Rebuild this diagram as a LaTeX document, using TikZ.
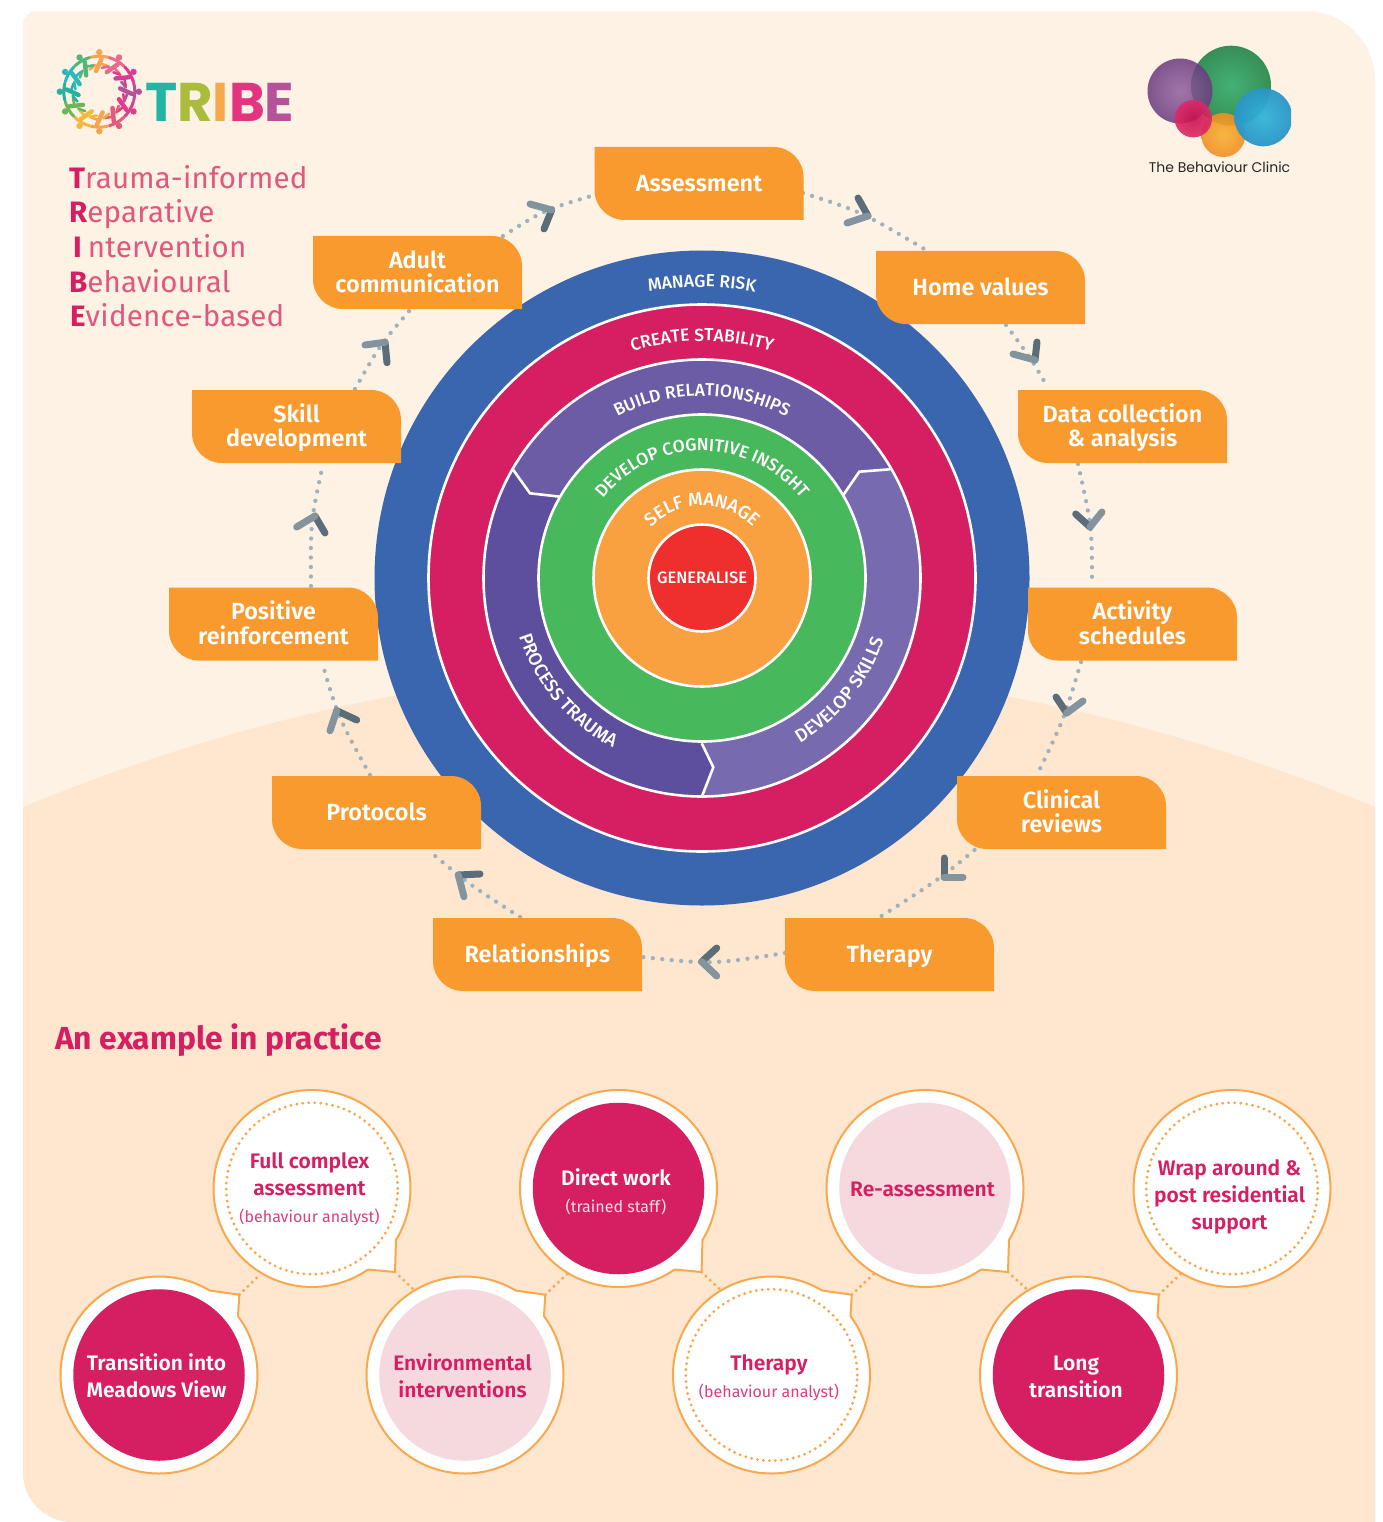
\documentclass[tikz,border=0pt]{standalone}
\usepackage{fontspec}
\setmainfont{Fira Sans}
\newfontfamily\medfont{Fira Sans Medium}
\newfontfamily\semifont{Fira Sans SemiBold}
\newfontfamily\tribefont{Poppins}
\newfontfamily\clinicfont{Poppins}
\usetikzlibrary{decorations.text,calc}
\pgfdeclarelayer{bg}\pgfdeclarelayer{conn}
\pgfsetlayers{bg,conn,main}
\definecolor{topbg}{HTML}{FEF2E4}
\definecolor{lowbg}{HTML}{FEE6CF}
\definecolor{ringblue}{HTML}{3A65AF}
\definecolor{crim}{HTML}{D61F63}
\definecolor{purtop}{HTML}{6C5BA5}
\definecolor{purleft}{HTML}{5D4E9E}
\definecolor{purright}{HTML}{786AAE}
\definecolor{ringgreen}{HTML}{47B85C}
\definecolor{ringorange}{HTML}{F9A041}
\definecolor{ringred}{HTML}{EE2F2E}
\definecolor{tabor}{HTML}{F99A2E}
\definecolor{dotgrey}{HTML}{A0B2BE}
\definecolor{chevdark}{HTML}{5B6D78}
\definecolor{chevlight}{HTML}{84949F}
\definecolor{bubline}{HTML}{F8A84D}
\definecolor{pinkdisc}{HTML}{F5D9DF}
\definecolor{subpink}{HTML}{DB3F80}
\definecolor{softcrim}{HTML}{E0577F}
\definecolor{lgA}{HTML}{3AAE70}\definecolor{lgB}{HTML}{2C8A4E}
\definecolor{lpA}{HTML}{90609F}\definecolor{lpB}{HTML}{6A3A80}
\definecolor{loA}{HTML}{F7B12E}\definecolor{loB}{HTML}{F08E25}
\definecolor{lbA}{HTML}{33B5D8}\definecolor{lbB}{HTML}{2A95C8}
\definecolor{lrA}{HTML}{C8104F}\definecolor{lrB}{HTML}{DC2A66}
\tikzset{
  ringfill/.style={draw=white,line width=2.6pt},
  tabtext/.style={text=white,font=\semifont\fontsize{23.4}{24.5}\selectfont,align=center,minimum width=209pt,minimum height=73pt,inner sep=0pt},
  dotline/.style={dotgrey,line width=4.3pt,line cap=round,dash pattern=on 0pt off 9.5pt},
  chevd/.style={chevdark,line width=7pt,line cap=round},
  chevl/.style={chevlight,line width=7pt,line cap=round},
  olink/.style={bubline,line width=3.4pt,line cap=round,dash pattern=on 0pt off 6pt},
  bubouter/.style={circle,draw=bubline,line width=2pt,fill=white,minimum size=197pt,inner sep=0pt},
  bubinner/.style={circle,minimum size=171.5pt,inner sep=0pt},
  dottedring/.style={draw=bubline,line width=3.2pt,line cap=round,dash pattern=on 0pt off 6pt},
  bubtext/.style={align=center,font=\semifont\fontsize{21}{27}\selectfont,inner sep=0pt},
  tribeline/.style={anchor=base west,inner sep=0pt,font=\fontsize{29.5}{31}\selectfont\addfontfeature{LetterSpace=0.8},text=softcrim}
}
\newcommand{\ringfont}{\medfont\fontsize{17.5}{17.5}\selectfont\color{white}}
\newcommand{\ringfontb}{\medfont\fontsize{18.5}{18.5}\selectfont\color{white}}
\newcommand{\subfont}{\fontfamily{\rmdefault}\fontsize{16}{27}\selectfont}
\newcommand{\orangetab}[4]{%
  \fill[tabor,shift={(#2,#3)}] (-104.5,-36.5) -- (74.5,-36.5) .. controls (91,-36.5) and (104.5,-23) .. (104.5,-6.5)
    -- (104.5,36.5) -- (-74.5,36.5) .. controls (-91,36.5) and (-104.5,23) .. (-104.5,6.5) -- cycle;
  \node[tabtext] (#1) at (#2,#3) {\rule{0pt}{21pt}#4\rule[-5pt]{0pt}{5pt}};}
\newcommand{\chevmark}[6]{%
  \draw[chevd] (#1,#2) -- (#3,#4);
  \draw[chevl] (#1,#2) -- (#5,#6);}
\newcommand{\tailup}[1]{%
  \fill[white,shift={(#1.center)}] (79,-59) -- (80.3,-80.3) -- (50.5,-84.5) -- (50,-50) -- cycle;
  \draw[bubline,line width=2pt,line join=miter,shift={(#1.center)}] (79,-59) -- (80.3,-80.3) -- (50.5,-84.5);
  \coordinate (#1tip) at ([shift={(80.3,-80.3)}]#1.center);}
\newcommand{\taildown}[1]{%
  \fill[white,shift={(#1.center)}] (84,51.5) -- (83,83.5) -- (56,81) -- (50,50) -- cycle;
  \draw[bubline,line width=2pt,line join=miter,shift={(#1.center)}] (84,51.5) -- (83,83.5) -- (56,81);
  \coordinate (#1tip) at ([shift={(83,83.5)}]#1.center);}
\begin{document}
\begin{tikzpicture}[x=1pt,y=-1pt]
\useasboundingbox (0,0) rectangle (1382,1522);
\begin{pgfonlayer}{bg}
  \fill[white] (0,0) rectangle (1382,1522);
  \fill[topbg] (37,11) -- (1305,11) .. controls (1344,11) and (1375,42) .. (1375,81) -- (1375,1522) -- (73,1522)
     .. controls (45,1522) and (23,1500) .. (23,1472) -- (23,25) .. controls (23,17) and (29,11) .. (37,11) -- cycle;
  \fill[lowbg] (23,807) .. controls (473.7,621) and (924.3,621) .. (1375,807) -- (1375,1522) -- (73,1522)
     .. controls (45,1522) and (23,1500) .. (23,1472) -- cycle;
\end{pgfonlayer}

% rings
\fill[ringblue] (702,578) circle [radius=327.5];
\draw[fill=crim,ringfill] (702,578) circle [radius=273.5];
\fill[purtop] (702,578) circle [radius=219];
\coordinate (la) at (513.3,470); \coordinate (lb) at (530,493.3); \coordinate (lc) at (560,496.7);
\coordinate (ra) at (890,469.3); \coordinate (rb) at (859.3,471.7); \coordinate (rc) at (843.3,495);
\coordinate (ba) at (701.7,797); \coordinate (bb) at (713.3,767.3); \coordinate (bc) at (701.7,743.3);
\begin{scope}
  \clip (702,578) circle [radius=219];
  \fill[purleft] (la) -- (lb) -- (lc) -- (702,578) -- (bc) -- (bb) -- (ba) -- (701.7,900) -- (300,900) -- (300,280) -- cycle;
  \fill[purright] (ra) -- (rb) -- (rc) -- (702,578) -- (bc) -- (bb) -- (ba) -- (701.7,900) -- (1100,900) -- (1100,280) -- cycle;
\end{scope}
\draw[white,line width=2.6pt] (la) -- (lb) -- (lc);
\draw[white,line width=2.6pt] (ra) -- (rb) -- (rc);
\draw[white,line width=2.6pt] (ba) -- (bb) -- (bc);
\draw[ringfill] (702,578) circle [radius=218.5];
\draw[fill=ringgreen,ringfill] (702,578) circle [radius=163.5];
\draw[fill=ringorange,ringfill] (702,578) circle [radius=108.5];
\node[circle,fill=ringred,draw=white,line width=2.6pt,minimum size=107pt,inner sep=0pt,text=white,font=\medfont\fontsize{16.5}{16.5}\selectfont] (generalise) at (702,578) {GENERALISE};

\begin{scope}[shift={(702,578)},x=1pt,y=1pt]
  \path[postaction={decorate,decoration={text along path,text align=center,text={|\ringfont|MANAGE RISK}}}] (150:291) arc (150:30:291);
  \path[postaction={decorate,decoration={text along path,text align=center,text={|\ringfont|CREATE STABILITY}}}] (150:237) arc (150:30:237);
  \path[postaction={decorate,decoration={text along path,text align=center,text={|\ringfont|BUILD RELATIONSHIPS}}}] (160:182) arc (160:20:182);
  \path[postaction={decorate,decoration={text along path,text align=center,text={|\ringfont|DEVELOP COGNITIVE INSIGHT}}}] (170:127) arc (170:10:127);
  \path[postaction={decorate,decoration={text along path,text align=center,text={|\ringfontb|SELF MANAGE}}}] (170:72) arc (170:10:72);
  \path[postaction={decorate,decoration={text along path,text align=center,text={|\ringfontb|DEVELOP SKILLS}}}] (-89:192) arc (-89:11:192);
  \path[postaction={decorate,decoration={text along path,text align=center,text={|\ringfontb|PROCESS TRAUMA}}}] (170:192) arc (170:270:192);
\end{scope}

% tabs
\orangetab{assess}{699}{183.5}{Assessment}
\orangetab{home}{980.5}{287.5}{Home values}
\orangetab{data}{1122.5}{426.5}{Data collection\\\& analysis}
\orangetab{activity}{1132.5}{624}{Activity\\schedules}
\orangetab{clinical}{1061.5}{812.5}{Clinical\\reviews}
\orangetab{therapy}{889.5}{954.5}{Therapy}
\orangetab{relat}{537.5}{954.5}{Relationships}
\orangetab{protocols}{376.5}{812.5}{Protocols}
\orangetab{positive}{273.5}{624}{Positive\\reinforcement}
\orangetab{skill}{296.5}{426.5}{Skill\\development}
\orangetab{adult}{417.5}{272.5}{Adult\\communication}

% connectors
\begin{pgfonlayer}{conn}
  \draw[dotline] ([shift={(104,9.5)}]assess.center) .. controls (861,211.5) .. ([shift={(-54.5,-37.5)}]home.center);
  \draw[dotline] ([shift={(25.5,37.5)}]home.center) .. controls (1032,360) .. ([shift={(-74.5,-38.5)}]data.center);
  \draw[dotline] ([shift={(-44.5,37.5)}]data.center) .. controls (1092,527) .. ([shift={(-40.5,-38)}]activity.center);
  \draw[dotline] ([shift={(-51.5,38)}]activity.center) .. controls (1064,719) .. ([shift={(-24.5,-37.5)}]clinical.center);
  \draw[dotline] ([shift={(-87,37.5)}]clinical.center) .. controls (941,878) .. ([shift={(-9.5,-37.5)}]therapy.center);
  \draw[dotline] ([shift={(-104.5,-1.5)}]therapy.center) .. controls (712,964.5) .. ([shift={(104.5,2.5)}]relat.center);
  \draw[dotline] ([shift={(-17.5,-37.5)}]relat.center) .. controls (470,885) .. ([shift={(51.5,37.5)}]protocols.center);
  \draw[dotline] ([shift={(-6.5,-37.5)}]protocols.center) .. controls (338,717) .. ([shift={(48.5,38)}]positive.center);
  \draw[dotline] ([shift={(37.5,-38)}]positive.center) .. controls (310.5,522) .. ([shift={(26.5,37.5)}]skill.center);
  \draw[dotline] ([shift={(58.5,-37.5)}]skill.center) .. controls (380,345) .. ([shift={(-7.5,37.5)}]adult.center);
  \draw[dotline] ([shift={(85.5,-36.5)}]adult.center) .. controls (544,210) .. ([shift={(-104.5,11.5)}]assess.center);
\end{pgfonlayer}
\chevmark{868}{216}{858}{198}{847}{223}
\chevmark{1035}{360}{1037}{342}{1013}{354}
\chevmark{1090}{527}{1075.7}{514}{1102}{512}
\chevmark{1066.7}{713}{1056}{697}{1083}{701}
\chevmark{944}{877}{944}{858}{963}{877}
\chevmark{701.7}{961.7}{716.7}{948}{716.7}{976}
\chevmark{458.3}{875}{480}{874}{464}{896.7}
\chevmark{336.7}{710.7}{356.7}{720}{330}{730.7}
\chevmark{315}{516}{325}{533}{296.7}{527}
\chevmark{385}{342.3}{387}{362.7}{365}{345}
\chevmark{551.7}{210}{544}{229}{530}{204}

% TRIBE logo
\begin{scope}[shift={(99.3,91.7)},x=1pt,y=1pt,line cap=round]
  \foreach \a/\cc in {90/F7A350,60/E86A8F,30/DB3A92,0/B5529A,-30/DE3E8A,-60/E8587A,-90/F7A350,-120/F4B93C,-150/6DB65A,180/27B1A0,150/2BB9C0,120/4DB87A}{
    \definecolor{wr}{HTML}{\cc}
    \fill[wr] (\a:39.5) circle [radius=3.2];
    \draw[wr,line width=3pt] (\a+14:35.5) arc (\a+14:\a-14:35.5);
    \draw[wr,line width=4.4pt] (\a-4:33) -- (\a+9:21);
    \draw[wr,line width=2.6pt] (\a+9:27) -- (\a+24:24);
    \draw[wr,line width=2.6pt] (\a-4:28) -- (\a-17:27);
  }
\end{scope}
\node[inner sep=0pt,anchor=base west,font=\tribefont\bfseries\fontsize{54.5}{54.5}\selectfont] (tribeword) at (145,122) {\textcolor[HTML]{20B5A5}{T}\textcolor[HTML]{A9BC3C}{R}\textcolor[HTML]{F5A94B}{I}\textcolor[HTML]{E5347F}{B}\textcolor[HTML]{B5529A}{E}};

\node[tribeline] (t1) at (69,188.5) {\textcolor{crim}{\bfseries T}rauma-informed};
\node[tribeline] (t2) at (69,223) {\textcolor{crim}{\bfseries R}eparative};
\node[tribeline] (t3) at (73,257.5) {\textcolor{crim}{\bfseries I}\hspace{6pt}ntervention};
\node[tribeline] (t4) at (69,292) {\textcolor{crim}{\bfseries B}ehavioural};
\node[tribeline] (t5) at (70,326.5) {\textcolor{crim}{\bfseries E}vidence-based};

% Behaviour Clinic logo
\begin{scope}
  \clip (1130,46) rectangle (1291,160);
  \shade[inner color=lgA,outer color=lgB,opacity=.95] (1231,85.7) circle [radius=40];
  \shade[inner color=lpA,outer color=lpB,opacity=.85] (1180,91) circle [radius=32.5];
  \shade[inner color=loA,outer color=loB,opacity=.9] (1223.3,135) circle [radius=22];
  \shade[inner color=lbA,outer color=lbB,opacity=.95] (1263.3,117.3) circle [radius=29];
  \shade[inner color=lrA,outer color=lrB,opacity=.9] (1193.3,118.7) circle [radius=18.7];
\end{scope}
\node[inner sep=0pt,text=black!85,font=\clinicfont\fontsize{14}{15}\selectfont] (clinic) at (1219.5,167) {The Behaviour Clinic};

\node[anchor=base west,inner sep=0pt,text=crim,font=\fontsize{31.8}{32}\selectfont\bfseries] (example) at (55,1049.5) {An example in practice};

% bubbles
\node[bubouter] (b1) at (159,1375) {};   \tailup{b1}
\node[bubouter] (b2) at (312,1188.5) {}; \taildown{b2}
\node[bubouter] (b3) at (465,1375) {};   \tailup{b3}
\node[bubouter] (b4) at (618.5,1188.5) {}; \taildown{b4}
\node[bubouter] (b5) at (771.5,1375) {}; \tailup{b5}
\node[bubouter] (b6) at (925,1188.5) {}; \taildown{b6}
\node[bubouter] (b7) at (1078.5,1375) {}; \tailup{b7}
\node[bubouter] (b8) at (1232,1188.5) {};

\node[bubinner,fill=crim] (d1) at (b1) {};
\node[bubinner,dottedring] (d2) at (b2) {};
\node[bubinner,fill=pinkdisc] (d3) at (b3) {};
\node[bubinner,fill=crim] (d4) at (b4) {};
\node[bubinner,dottedring] (d5) at (b5) {};
\node[bubinner,fill=pinkdisc] (d6) at (b6) {};
\node[bubinner,fill=crim] (d7) at (b7) {};
\node[bubinner,dottedring] (d8) at (b8) {};

\newcommand{\subtext}[2]{{\normalfont\fontsize{16}{27}\selectfont\color{#1}#2}}
\node[bubtext,text=white] (x1) at ([shift={(-2.5,1)}]b1.center) {Transition into\\Meadows View};
\node[bubtext,text=crim] (x2) at ([shift={(-2.5,1)}]b2.center) {Full complex\\assessment\\\subtext{subpink}{(behaviour analyst)}};
\node[bubtext,text=crim] (x3) at ([shift={(-2.5,1)}]b3.center) {Environmental\\interventions};
\node[bubtext,text=white] (x4) at ([shift={(-2.5,3.5)}]b4.center) {Direct work\\\subtext{white!85!crim}{(trained staff)}};
\node[bubtext,text=crim] (x5) at ([shift={(-2.5,2.5)}]b5.center) {Therapy\\\subtext{subpink}{(behaviour analyst)}};
\node[bubtext,text=crim] (x6) at ([shift={(-2.5,0.5)}]b6.center) {Re-assessment};
\node[bubtext,text=white] (x7) at ([shift={(-2.5,2)}]b7.center) {Long\\transition};
\node[bubtext,text=crim] (x8) at ([shift={(-2.5,8)}]b8.center) {Wrap around \&\\post residential\\support};

\begin{pgfonlayer}{conn}
  \draw[olink] (b1tip) -- (b2.239);
  \draw[olink] (b2tip) -- (b3.121);
  \draw[olink] (b3tip) -- (b4.239);
  \draw[olink] (b4tip) -- (b5.121);
  \draw[olink] (b5tip) -- (b6.239);
  \draw[olink] (b6tip) -- (b7.121);
  \draw[olink] (b7tip) -- (b8.239);
\end{pgfonlayer}
\end{tikzpicture}
\end{document}
